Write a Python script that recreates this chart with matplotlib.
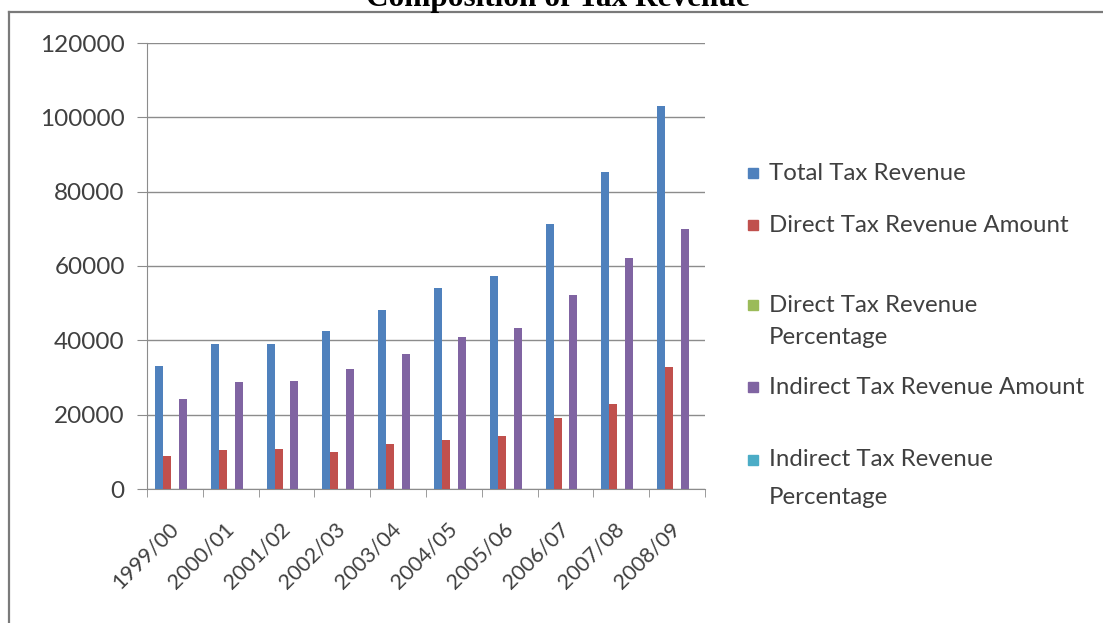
import numpy as np
import matplotlib
matplotlib.use("Agg")
import matplotlib.pyplot as plt
import matplotlib.transforms as mtransforms
from matplotlib.lines import Line2D
from matplotlib.patches import Rectangle

# Données (montants et pourcentages)
years = ["1999/00", "2000/01", "2001/02", "2002/03", "2003/04",
         "2004/05", "2005/06", "2006/07", "2007/08", "2008/09"]
total_tax = [33000, 38900, 39100, 42600, 48100, 54000, 57400, 71200, 85200, 103100]
direct_amount = [9000, 10400, 10800, 10000, 12100, 13100, 14300, 19000, 23000, 32800]
direct_pct = [27.3, 26.7, 27.6, 23.5, 25.2, 24.3, 24.9, 26.7, 27.0, 31.8]
indirect_amount = [24100, 28700, 29000, 32400, 36200, 41000, 43300, 52200, 62100, 70000]
indirect_pct = [72.7, 73.3, 72.4, 76.5, 74.8, 75.7, 75.1, 73.3, 72.9, 68.0]

series_names = ["Total Tax Revenue", "Direct Tax Revenue Amount",
                "Direct Tax Revenue\nPercentage", "Indirect Tax Revenue Amount",
                "Indirect Tax Revenue\nPercentage"]
colours = ["#4F81BD", "#C0504D", "#9BBB59", "#8064A2", "#4BACC6"]
yticks = [0, 20000, 40000, 60000, 80000, 100000, 120000]

plt.rcParams["font.family"] = ["Lato", "DejaVu Sans"]
text_col = "#404040"
grid_col = "#8c8c8c"

W, H = 1103, 623
fig = plt.figure(figsize=(W / 100, H / 100), dpi=100)

# cadre du graphique (haut et gauche seulement)
fig.add_artist(Line2D([9 / W, 1], [1 - 12 / H, 1 - 12 / H], color="#7a7a7a", lw=1.6))
fig.add_artist(Line2D([9 / W, 9 / W], [0, 1 - 12 / H], color="#7a7a7a", lw=1.6))

# titre (coupé en haut comme dans l'original)
fig.text(558 / W, 1 - 6 / H, "Composition of Tax Revenue", ha="center", va="baseline",
         fontsize=22.5, fontweight="bold", family="Liberation Serif", color="black")

ax = fig.add_axes([147 / W, 1 - 489 / H, (705 - 147) / W, (489 - 43) / H])

x = np.arange(len(years))
w = 0.143
all_series = [total_tax, direct_amount, direct_pct, indirect_amount, indirect_pct]
for i, (vals, col) in enumerate(zip(all_series, colours)):
    ax.bar(x + (i - 2) * w, vals, w, color=col, zorder=3)

ax.set_xlim(-0.5, len(years) - 0.5)
ax.set_ylim(0, 120000)
ax.set_yticks(yticks)
ax.set_yticklabels([str(v) for v in yticks])
ax.yaxis.grid(True, color=grid_col, lw=1)
ax.set_axisbelow(True)

ax.set_xticks(x)
ax.set_xticklabels(years, rotation=45, ha="right", rotation_mode="anchor")
ax.set_xticks(np.arange(-0.5, len(years)), minor=True)
ax.tick_params(axis="x", which="major", length=0, pad=21.5, labelsize=15.5, labelcolor=text_col)
ax.tick_params(axis="x", which="minor", length=6, color=grid_col, direction="out")
ax.tick_params(axis="y", length=7, color=grid_col, pad=9, labelsize=17.5, labelcolor=text_col)

# décalage des étiquettes vers la gauche, comme dans Excel
shift = mtransforms.ScaledTranslation(-7 / 100, 0, fig.dpi_scale_trans)
for lab in ax.get_xticklabels():
    lab.set_transform(lab.get_transform() + shift)

for s in ["top", "right"]:
    ax.spines[s].set_visible(False)
ax.spines["left"].set_color(grid_col)
ax.spines["bottom"].set_color(grid_col)

# légende façon Excel
legend_lines = [
    (0, ["Total Tax Revenue"], [173]),
    (1, ["Direct Tax Revenue Amount"], [225]),
    (2, ["Direct Tax Revenue", "Percentage"], [305, 337]),
    (3, ["Indirect Tax Revenue Amount"], [387]),
    (4, ["Indirect Tax Revenue", "Percentage"], [460, 497]),
]
for idx, lines, ys in legend_lines:
    fig.add_artist(Rectangle((748 / W, 1 - (ys[0] + 5) / H), 10 / W, 10 / H,
                             color=colours[idx], transform=fig.transFigure))
    for txt, yy in zip(lines, ys):
        fig.text(769 / W, 1 - yy / H, txt, ha="left", va="center",
                 fontsize=17.3, color=text_col)

fig.savefig("out.png", dpi=100)
